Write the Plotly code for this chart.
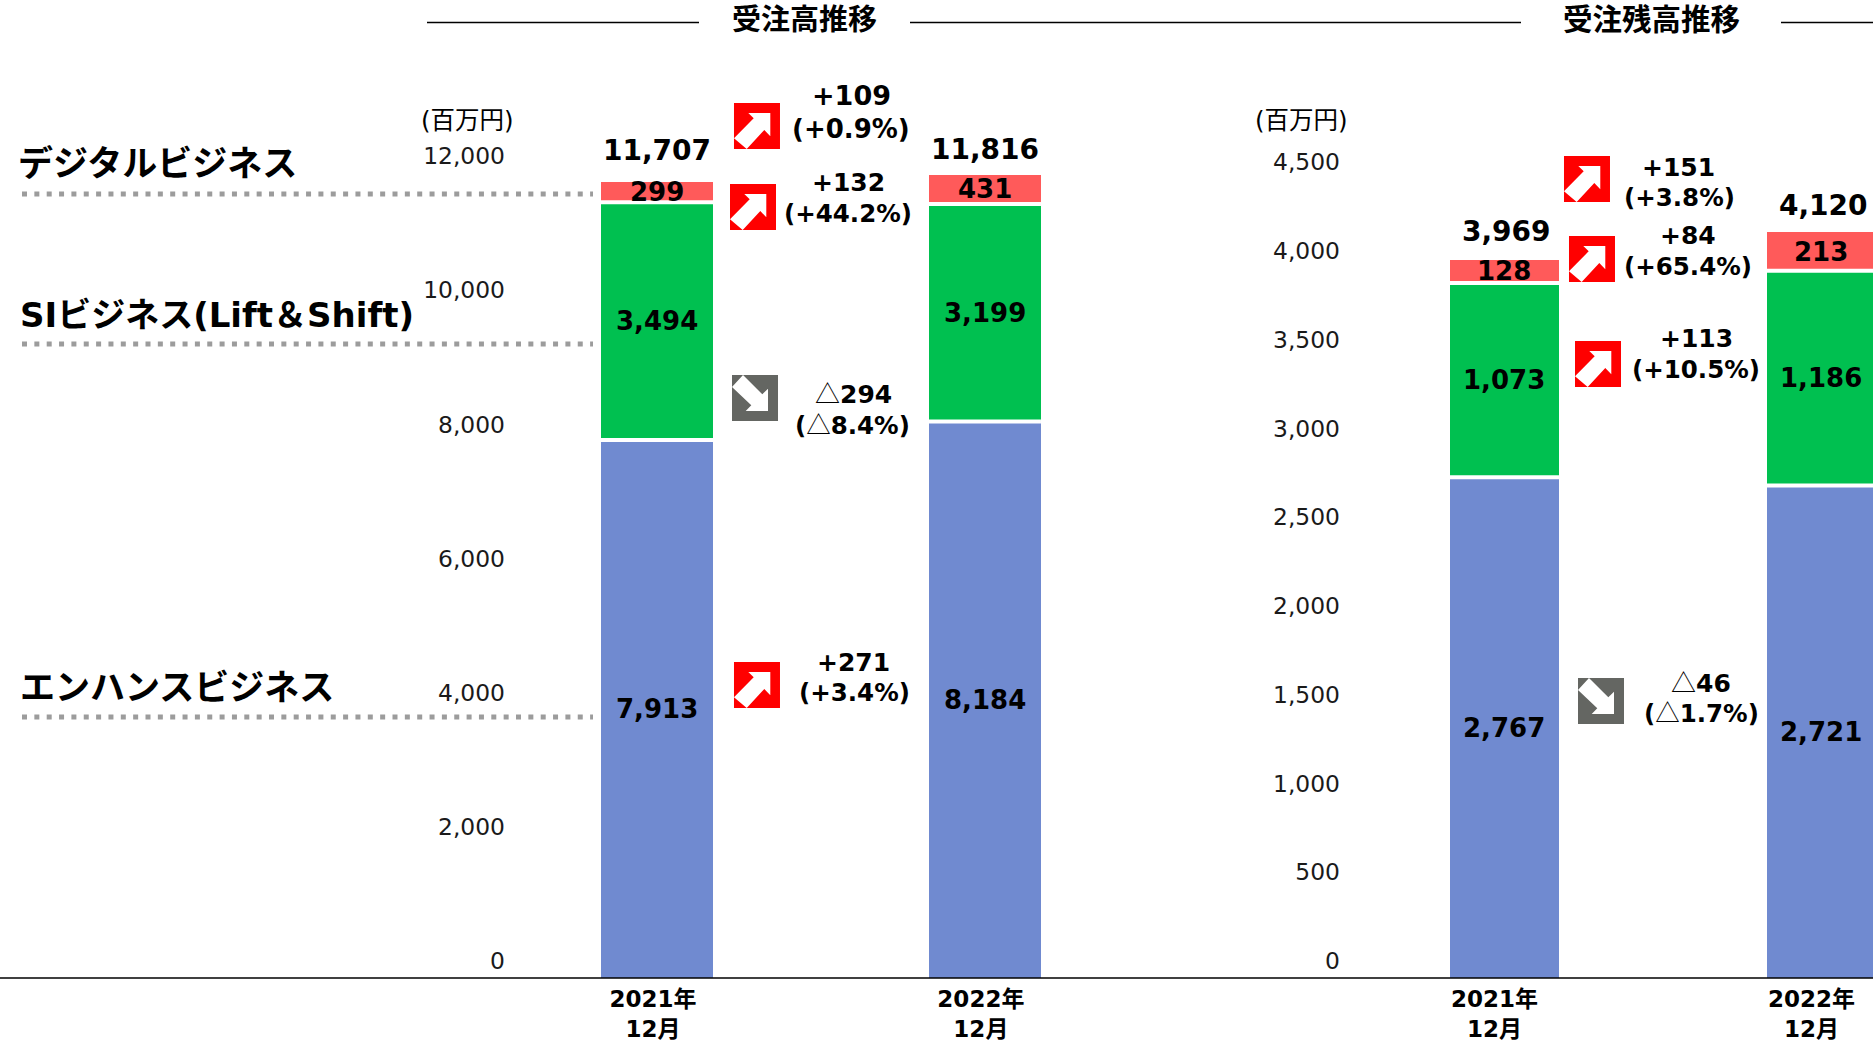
import plotly.graph_objects as go

W, H = 1873, 1041
FONT = "DejaVu Sans, Noto Sans CJK JP, sans-serif"
TRI = "<span style=\"font-family:'Noto Sans CJK JP'\">△</span>"

categories = ["2021年<br>12月", "2022年<br>12月"]
segments = ["エンハンスビジネス", "SIビジネス(Lift＆Shift)", "デジタルビジネス"]
colors = ["#708AD0", "#00C050", "#FF5A5A"]

orders_enhance = [7913, 8184]
orders_si = [3494, 3199]
orders_digital = [299, 431]
orders_total = [11707, 11816]

backlog_enhance = [2767, 2721]
backlog_si = [1073, 1186]
backlog_digital = [128, 213]
backlog_total = [3969, 4120]

orders_ticks = [0, 2000, 4000, 6000, 8000, 10000, 12000]
backlog_ticks = [0, 500, 1000, 1500, 2000, 2500, 3000, 3500, 4000, 4500]

BASE, TOP = 978, 60


def px(x):
    return x / W


def py(y):
    return 1 - y / H


def add_bars(fig, series, xa, ya):
    for name, vals, col in zip(segments, series, colors):
        fig.add_trace(go.Bar(name=name, x=categories, y=vals, xaxis=xa, yaxis=ya, width=bar_w[xa],
                             marker=dict(color=col, line=dict(width=0)), showlegend=False))


bar_w = {"x": 0.342, "x2": 0.344}
fig = go.Figure()
add_bars(fig, [orders_enhance, orders_si, orders_digital], "x", "y")
add_bars(fig, [backlog_enhance, backlog_si, backlog_digital], "x2", "y2")
# carriers so that the tick-label axes are drawn
fig.add_trace(go.Scatter(x=categories, y=orders_ticks[:2], xaxis="x", yaxis="y3", mode="markers",
                         marker=dict(opacity=0), showlegend=False, hoverinfo="skip"))
fig.add_trace(go.Scatter(x=categories, y=backlog_ticks[:2], xaxis="x2", yaxis="y4", mode="markers",
                         marker=dict(opacity=0), showlegend=False, hoverinfo="skip"))

annotations = []
shapes = []


def note(text, x, y, size, family=FONT, **kw):
    annotations.append(dict(text=text, x=px(x), y=py(y), xref="paper", yref="paper", showarrow=False,
                            font=dict(size=size, family=family, color="#000000"),
                            xanchor=kw.pop("xanchor", "center"), yanchor="middle", **kw))


def value_labels(series, totals, xref, yref, shift):
    for i in range(2):
        cum = 0
        for vals in series:
            annotations.append(dict(text=f"<b>{vals[i]:,}</b>", x=i, y=cum + vals[i] / 2, xref=xref, yref=yref,
                                    showarrow=False, font=dict(size=26, family=FONT, color="#000000")))
            cum += vals[i]
            if vals is not series[-1]:
                shapes.append(dict(type="line", xref=xref, yref=yref, x0=i - bar_w[xref] / 2, x1=i + bar_w[xref] / 2,
                                   y0=cum, y1=cum, line=dict(color="#FFFFFF", width=4), layer="above"))
        annotations.append(dict(text=f"<b>{totals[i]:,}</b>", x=i + (0 if xref == "x" else 0.005), y=totals[i],
                                xref=xref, yref=yref, showarrow=False, yshift=shift[i],
                                font=dict(size=28, family=FONT, color="#000000")))


value_labels([orders_enhance, orders_si, orders_digital], orders_total, "x", "y", [31, 25])
value_labels([backlog_enhance, backlog_si, backlog_digital], backlog_total, "x2", "y2", [28, 27])


def poly(pts):
    return "M " + " L ".join(f"{px(a):.5f},{py(b):.5f}" for a, b in pts) + " Z"


def arrow(x, y, up=True):
    box = [(x, y), (x + 46, y), (x + 46, y + 46), (x, y + 46)]
    shapes.append(dict(type="path", xref="paper", yref="paper", path=poly(box), line=dict(width=0),
                       fillcolor="#FF0000" if up else "#646662", layer="above"))
    if up:
        rel = [(36.3, 10), (14.3, 10), (19.7, 15.3), (0, 35.3), (12.7, 46), (30.3, 27), (36.3, 33.3)]
    else:
        rel = [(11, 0), (30.3, 19.3), (36, 13.7), (36, 36), (13.7, 36), (19.3, 30.3), (0, 12)]
    shapes.append(dict(type="path", xref="paper", yref="paper", path=poly([(x + a, y + b) for a, b in rel]),
                       line=dict(width=0), fillcolor="#FFFFFF", layer="above"))


for x, y, up in [(734, 103, True), (730, 184, True), (732, 375, False), (734, 662, True),
                 (1564, 156, True), (1569, 236, True), (1575, 341, True), (1578, 678, False)]:
    arrow(x, y, up)

changes = [
    ("<b>+109</b>", 851, 96, 27, "<b>(+0.9%)</b>", 851, 129, 26),
    ("<b>+132</b>", 848, 183, 25, "<b>(+44.2%)</b>", 848, 214, 24.5),
    (TRI + "<b>294</b>", 853, 392, 25, "<b>(</b>" + TRI + "<b>8.4%)</b>", 852, 424, 24.5),
    ("<b>+271</b>", 853, 662, 25, "<b>(+3.4%)</b>", 854, 692, 24.5),
    ("<b>+151</b>", 1678, 167, 25, "<b>(+3.8%)</b>", 1679, 197, 24.5),
    ("<b>+84</b>", 1688, 235, 25, "<b>(+65.4%)</b>", 1688, 266, 24.5),
    ("<b>+113</b>", 1696, 338, 25, "<b>(+10.5%)</b>", 1696, 369, 24.5),
    (TRI + "<b>46</b>", 1701, 681, 25, "<b>(</b>" + TRI + "<b>1.7%)</b>", 1701, 711, 24.5),
]
for t1, x1, y1, s1, t2, x2, y2, s2 in changes:
    note(t1, x1, y1, s1)
    note(t2, x2, y2, s2)

note("<b>受注高推移</b>", 804, 20, 29)
note("<b>受注残高推移</b>", 1651, 20, 29.5)
note("(百万円)", 467, 120, 24.5)
note("(百万円)", 1301, 120, 24.5)
note(f"<b>{segments[2]}</b>", 16, 164, 35, xanchor="left")
note(f"<b>{segments[1]}</b>", 18, 315, 34, xanchor="left")
note(f"<b>{segments[0]}</b>", 18, 688, 35, xanchor="left")

for a, b in [(427, 699), (910, 1521), (1781, W)]:
    shapes.append(dict(type="line", xref="paper", yref="paper", x0=px(a), x1=px(b), y0=py(22.5), y1=py(22.5),
                       line=dict(color="#000000", width=1.5)))
shapes.append(dict(type="line", xref="paper", yref="paper", x0=0, x1=1, y0=py(978), y1=py(978),
                   line=dict(color="#000000", width=1.5), layer="above"))
for y in [194, 344, 717]:
    shapes.append(dict(type="line", xref="paper", yref="paper", x0=px(22), x1=px(593), y0=py(y), y1=py(y),
                       line=dict(color="#9C9C9C", width=5, dash="5px,7.35px")))


def bar_range(scale):
    return [0, (BASE - TOP) / scale]


def label_range(y_zero, y_top, top_val):
    s = (y_zero - y_top) / top_val
    return [(y_zero - BASE) / s, (y_zero - TOP) / s]


def tick_axis(ticks, rng, position):
    return dict(overlaying="y" if position < 0.5 else "y2", side="left", anchor="x" if position < 0.5 else "x2",
                range=rng, tickmode="array", tickvals=ticks, ticktext=[f"{t:,}" for t in ticks],
                showgrid=False, zeroline=False, showline=False, ticks="", ticklabelstandoff=4,
                tickfont=dict(size=23.4, family=FONT, color="#1A1A1A"), domain=[py(BASE), py(TOP)])


def cat_axis(domain, rng, shift):
    return dict(domain=domain, type="category", range=rng, showgrid=False, zeroline=False, showline=False, ticks="",
                tickmode="array", tickvals=categories, ticktext=[f"<b>{c}</b>".replace("<br>", "</b><br><b>") for c in categories],
                ticklabelshift=shift, ticklabelstandoff=5, automargin=False,
                tickfont=dict(size=23, family=FONT, color="#000000"),
                categoryorder="array", categoryarray=categories)


fig.update_layout(
    width=W, height=H, margin=dict(l=0, r=0, t=0, b=0), autosize=False,
    paper_bgcolor="#FFFFFF", plot_bgcolor="#FFFFFF", barmode="stack", bargap=0,
    xaxis=cat_axis([px(510), px(1160)], [-0.448, 1.534], -4),
    xaxis2=cat_axis([px(1345), 1], [-0.503, 1.1625], -10),
    yaxis=dict(domain=[py(BASE), py(TOP)], range=bar_range(0.068), visible=False, anchor="x"),
    yaxis2=dict(domain=[py(BASE), py(TOP)], range=bar_range(0.181), visible=False, anchor="x2"),
    yaxis3=tick_axis(orders_ticks, label_range(961, 156, 12000), 0.1),
    yaxis4=tick_axis(backlog_ticks, label_range(961, 162, 4500), 0.9),
    annotations=annotations, shapes=shapes,
)

fig.write_html("out.html", config={"displayModeBar": False},
               post_script="document.body.style.margin='0';document.body.style.overflow='hidden';")
